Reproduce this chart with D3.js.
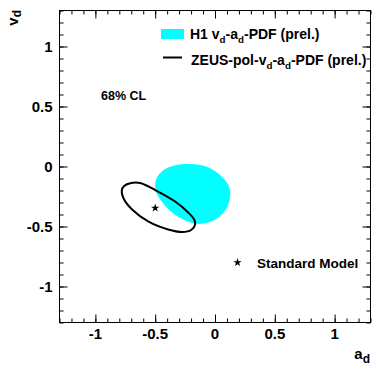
<!DOCTYPE html>
<html>
<head>
<meta charset="utf-8">
<script src="https://cdn.jsdelivr.net/npm/d3@7"></script>
<style>
  html, body { margin: 0; padding: 0; background: #fff; }
  svg { display: block; }
  text { font-family: "Liberation Sans", Arial, Helvetica, sans-serif; font-weight: bold; fill: #000; }
</style>
</head>
<body>
<svg id="chart" width="381" height="373"></svg>
<script>
// ---- data ----
const xDomain = [-1.3, 1.3];
const yDomain = [-1.3, 1.3];
const majorTicks = [-1, -0.5, 0, 0.5, 1];
const xTickLabels = ["-1", "-0.5", "0", "0.5", "1"];
const yTickLabels = ["-1", "-0.5", "0", "0.5", "1"];

// H1 vd-ad-PDF (prel.) 68% CL region: [a_d, v_d]
const h1Contour = [
  [-0.266, 0.022], [-0.166, 0.022], [-0.060, 0.000], [0.020, -0.050],
  [0.080, -0.105], [0.118, -0.160], [0.130, -0.210], [0.127, -0.265],
  [0.108, -0.330], [0.075, -0.385], [0.030, -0.430], [-0.030, -0.462],
  [-0.100, -0.478], [-0.160, -0.480], [-0.235, -0.458], [-0.310, -0.420],
  [-0.375, -0.375], [-0.445, -0.295], [-0.490, -0.230], [-0.505, -0.165],
  [-0.495, -0.100], [-0.455, -0.045], [-0.390, -0.005], [-0.330, 0.012]
];

// ZEUS-pol-vd-ad-PDF (prel.) 68% CL contour: [a_d, v_d]
const zeusContour = [
  [-0.779, -0.200], [-0.760, -0.163], [-0.701, -0.138], [-0.626, -0.138],
  [-0.500, -0.196], [-0.333, -0.292], [-0.224, -0.383], [-0.174, -0.442],
  [-0.166, -0.483], [-0.199, -0.529], [-0.274, -0.546], [-0.392, -0.525],
  [-0.559, -0.458], [-0.693, -0.358], [-0.760, -0.275]
];

// Standard Model point
const smPoint = [-0.5, -0.346];

// ---- drawing ----
const svg = d3.select("#chart");
svg.append("rect").attr("width", 381).attr("height", 373).attr("fill", "#fff");

const x = d3.scaleLinear().domain(xDomain).range([59.5, 370.5]);
const y = d3.scaleLinear().domain(yDomain).range([322.5, 10.5]);

// H1 region
svg.append("path")
  .datum(h1Contour)
  .attr("d", d3.line().x(d => x(d[0])).y(d => y(d[1])).curve(d3.curveBasisClosed))
  .attr("fill", "#00ffff")
  .attr("stroke", "none");

// ZEUS contour
svg.append("path")
  .datum(zeusContour)
  .attr("d", d3.line().x(d => x(d[0])).y(d => y(d[1])).curve(d3.curveCatmullRomClosed.alpha(0.5)))
  .attr("fill", "none")
  .attr("stroke", "#000")
  .attr("stroke-width", 2);

// SM star
const star = d3.symbol().type(d3.symbolStar).size(22);
svg.append("path")
  .attr("d", star())
  .attr("transform", `translate(${x(smPoint[0])},${y(smPoint[1])})`)
  .attr("fill", "#000");

// axes / frame with inward ticks
const minorX = x.ticks(26);
const minorY = y.ticks(26);
const majLen = 8, minLen = 4;

function addAxis(axisFn, scale, transform, ticks, len) {
  const g = svg.append("g").attr("transform", transform)
    .call(axisFn(scale).tickValues(ticks).tickSize(-len).tickFormat(""));
  g.select(".domain").remove();
  g.selectAll("line").attr("stroke", "#000").attr("stroke-width", 1);
  return g;
}
addAxis(d3.axisBottom, x, `translate(0,${y(-1.3)})`, minorX, minLen);
addAxis(d3.axisBottom, x, `translate(0,${y(-1.3)})`, majorTicks, majLen);
addAxis(d3.axisTop, x, `translate(0,${y(1.3)})`, minorX, minLen);
addAxis(d3.axisTop, x, `translate(0,${y(1.3)})`, majorTicks, majLen);
addAxis(d3.axisLeft, y, `translate(${x(-1.3)},0)`, minorY, minLen);
addAxis(d3.axisLeft, y, `translate(${x(-1.3)},0)`, majorTicks, majLen);
addAxis(d3.axisRight, y, `translate(${x(1.3)},0)`, minorY, minLen);
addAxis(d3.axisRight, y, `translate(${x(1.3)},0)`, majorTicks, majLen);

svg.append("rect")
  .attr("x", x(-1.3)).attr("y", y(1.3))
  .attr("width", x(1.3) - x(-1.3)).attr("height", y(-1.3) - y(1.3))
  .attr("fill", "none").attr("stroke", "#000").attr("stroke-width", 1);

// tick labels
svg.append("g").selectAll("text").data(majorTicks).join("text")
  .attr("x", d => x(d)).attr("y", 339)
  .attr("text-anchor", "middle").attr("font-size", 15)
  .text((d, i) => xTickLabels[i]);
svg.append("g").selectAll("text").data(majorTicks).join("text")
  .attr("x", 52.5).attr("y", d => y(d) + 5.5)
  .attr("text-anchor", "end").attr("font-size", 15)
  .text((d, i) => yTickLabels[i]);

// axis titles
const xt = svg.append("text").attr("x", 370).attr("y", 359).attr("text-anchor", "end").attr("font-size", 15);
xt.append("tspan").text("a");
xt.append("tspan").attr("dy", 4).attr("font-size", 12).text("d");

const yt = svg.append("text").attr("transform", "translate(17.5,10) rotate(-90)").attr("text-anchor", "end").attr("font-size", 15);
yt.append("tspan").text("v");
yt.append("tspan").attr("dy", 3).attr("font-size", 12).text("d");

// legend
svg.append("rect").attr("x", 161).attr("y", 29).attr("width", 23).attr("height", 10).attr("fill", "#00ffff");
function subText(xp, yp, parts, size) {
  const t = svg.append("text").attr("x", xp).attr("y", yp).attr("font-size", size);
  parts.forEach(p => {
    if (p.sub) {
      t.append("tspan").attr("dy", 4).attr("font-size", size * 0.7).text(p.t);
    } else {
      t.append("tspan").attr("dy", p.after ? -4 : 0).text(p.t);
    }
  });
  return t;
}
subText(190, 38.5, [{t: "H1 v"}, {t: "d", sub: 1}, {t: "-a", after: 1}, {t: "d", sub: 1}, {t: "-PDF (prel.)", after: 1}], 14);
svg.append("line").attr("x1", 163).attr("x2", 182).attr("y1", 57.5).attr("y2", 57.5).attr("stroke", "#000").attr("stroke-width", 2);
subText(191, 65, [{t: "ZEUS-pol-v"}, {t: "d", sub: 1}, {t: "-a", after: 1}, {t: "d", sub: 1}, {t: "-PDF (prel.)", after: 1}], 14);

svg.append("text").attr("x", 101).attr("y", 100).attr("font-size", 12.5).text("68% CL");

svg.append("path").attr("d", star()).attr("transform", "translate(237.5,262.5)").attr("fill", "#000");
svg.append("text").attr("x", 257).attr("y", 267.5).attr("font-size", 13.5).text("Standard Model");
</script>
</body>
</html>
